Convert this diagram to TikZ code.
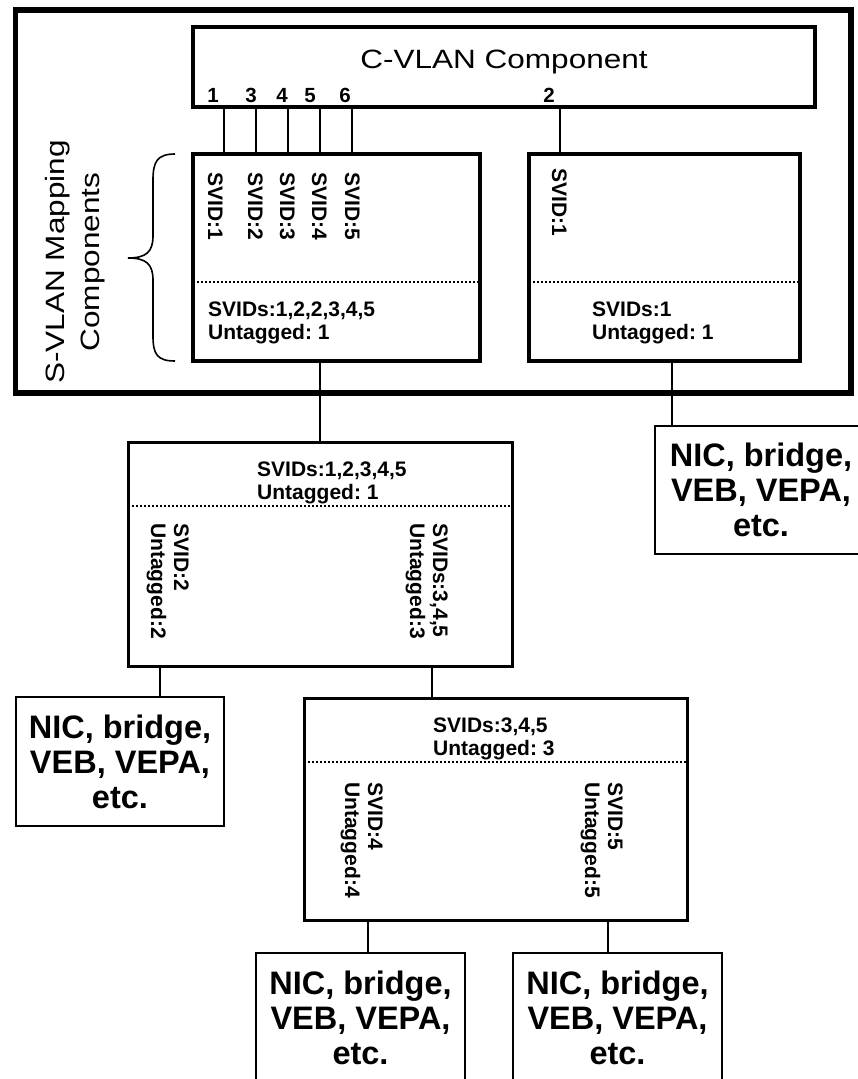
\documentclass[tikz,border=0pt]{standalone}
\usepackage{fontspec}
\setmainfont{Liberation Sans}
\newfontfamily\widesans[FakeStretch=1.19]{Liberation Sans}
\usetikzlibrary{calc}
\frenchspacing
\tikzset{
  outerbox/.style={draw,line width=5.5pt,inner sep=0pt,outer sep=0pt},
  compbox/.style={draw,line width=4pt,inner sep=0pt,outer sep=0pt},
  vlanbox/.style={draw,line width=3pt,inner sep=0pt,outer sep=0pt},
  endbox/.style={draw,line width=2.8pt,inner sep=0pt,outer sep=0pt,align=center,
    font=\bfseries\fontsize{32.5}{35}\selectfont},
  lbl/.style={inner sep=0pt,align=left,font=\bfseries\fontsize{21}{23}\selectfont},
  vlbl/.style={lbl,rotate=-90,anchor=north west},
  portnum/.style={inner sep=0pt,anchor=base,font=\bfseries\fontsize{20.5}{20.5}\selectfont},
  wire/.style={line width=2.2pt},
  sepline/.style={line width=1.6pt,dash pattern=on 1.6pt off 2.4pt}
}

\begin{document}
\begin{tikzpicture}[x=1pt,y=-1pt]
  \useasboundingbox (0,0) rectangle (857,1079);
  \node[outerbox,minimum width=835.5,minimum height=383] (frame) at (433.25,201.5) {};
  \node[compbox,minimum width=622,minimum height=80] (cvlan) at (504,67) {};
  \node[anchor=base,inner sep=0pt,font=\widesans\fontsize{26.5}{30}\selectfont] (cvlantxt) at (504,68) {C-VLAN Component};
  \foreach \n/\x in {1/213,3/251,4/282,5/310,6/345,2/549}
    \node[portnum] (port\n) at (\x,102) {\n};
  % S-VLAN mapping components
  \node[compbox,minimum width=287,minimum height=207] (mapa) at (336.5,257.5) {};
  \node[compbox,minimum width=271,minimum height=207] (mapb) at (664.5,257.5) {};
  \foreach \x in {224,256,288,320,352}
    \draw[wire] (\x,0 |- cvlan.south) -- (\x,0 |- mapa.north);
  \draw[wire] (560,0 |- cvlan.south) -- (560,0 |- mapb.north);
  \foreach \i/\x in {1/223,2/263,3/295,4/327,5/360}
    \node[vlbl] (svid\i) at (\x,172) {SVID:\i};
  \node[vlbl] (svidb) at (567,168) {SVID:1};
  \draw[sepline] (mapa.west |- 0,282) -- (mapa.east |- 0,282);
  \draw[sepline] (mapb.west |- 0,282) -- (mapb.east |- 0,282);
  \node[lbl,anchor=north west] (mapatxt) at (208,302) {SVIDs:1,2,2,3,4,5\\Untagged: 1};
  \node[lbl,anchor=north west] (mapbtxt) at (592,302) {SVIDs:1\\Untagged: 1};
  \draw[line width=1.6pt] (175,154) .. controls (157,154) and (153,162) .. (153,180) -- (153,236)
    .. controls (153,252) and (146,258) .. (128,258) .. controls (146,258) and (153,264) .. (153,280)
    -- (153,336) .. controls (153,354) and (157,361) .. (175,361);
  \node[rotate=90,align=center,inner sep=0pt,font=\widesans\fontsize{26.5}{35}\selectfont] (svlantxt) at (75,262) {S-VLAN Mapping\\Components};
  % S-VLAN components below
  \node[vlanbox,minimum width=384,minimum height=224] (svlana) at (320,554) {};
  \draw[sepline] (svlana.west |- 0,506) -- (svlana.east |- 0,506);
  \node[lbl,anchor=north west] (svlanatxt) at (257,462) {SVIDs:1,2,3,4,5\\Untagged: 1};
  \node[vlbl] (svlanal) at (189,523) {SVID:2\\Untagged:2};
  \node[vlbl] (svlanar) at (448,523) {SVIDs:3,4,5\\Untagged:3};
  \node[vlanbox,minimum width=383,minimum height=222] (svlanb) at (495.5,809) {};
  \draw[sepline] (svlanb.west |- 0,762) -- (svlanb.east |- 0,762);
  \node[lbl,anchor=north west] (svlanbtxt) at (433,718) {SVIDs:3,4,5\\Untagged: 3};
  \node[vlbl] (svlanbl) at (383,782) {SVID:4\\Untagged:4};
  \node[vlbl] (svlanbr) at (623,782) {SVID:5\\Untagged:5};
  % end stations
  \node[endbox,minimum width=212,minimum height=128] (endb) at (761,490) {NIC, bridge,\\VEB, VEPA,\\etc.};
  \node[endbox,minimum width=208,minimum height=129] (enda) at (120,761.5) {NIC, bridge,\\VEB, VEPA,\\etc.};
  \node[endbox,minimum width=209,minimum height=129] (endc) at (360.5,1017.5) {NIC, bridge,\\VEB, VEPA,\\etc.};
  \node[endbox,minimum width=209,minimum height=129] (endd) at (617.5,1017.5) {NIC, bridge,\\VEB, VEPA,\\etc.};
  \draw[wire] (320,0 |- mapa.south) -- (320,0 |- svlana.north);
  \draw[wire] (672,0 |- mapb.south) -- (672,0 |- endb.north);
  \draw[wire] (160,0 |- svlana.south) -- (160,0 |- enda.north);
  \draw[wire] (432,0 |- svlana.south) -- (432,0 |- svlanb.north);
  \draw[wire] (368,0 |- svlanb.south) -- (368,0 |- endc.north);
  \draw[wire] (608,0 |- svlanb.south) -- (608,0 |- endd.north);
\end{tikzpicture}
\end{document}
